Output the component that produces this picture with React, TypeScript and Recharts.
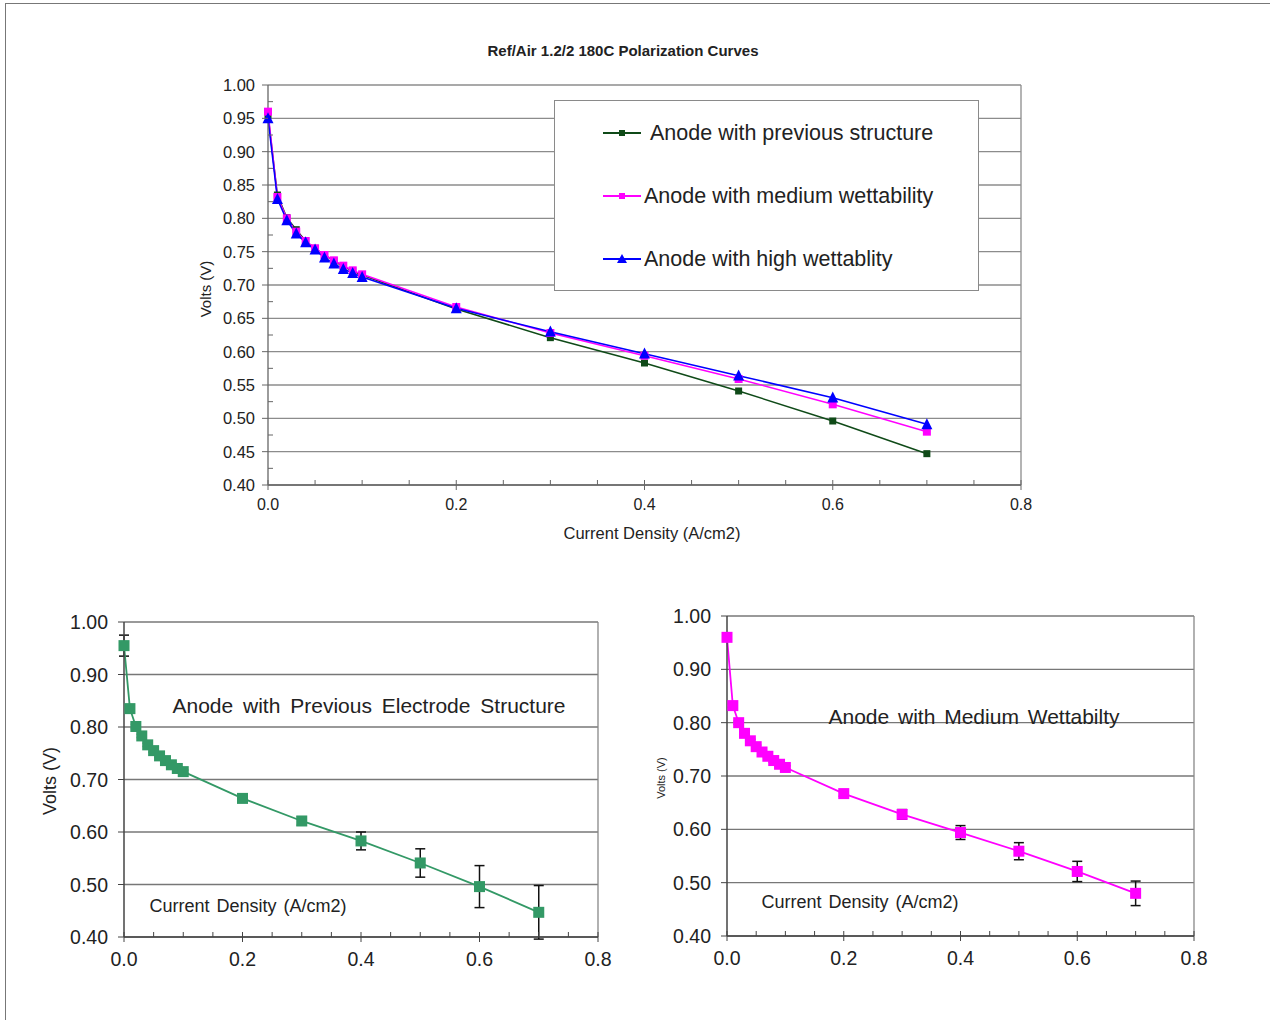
import React from 'react';
import { LineChart, Line, XAxis, YAxis, CartesianGrid, ReferenceLine, ErrorBar, Legend } from 'recharts';

// current density (A/cm2)
const current = [0, 0.01, 0.02, 0.03, 0.04, 0.05, 0.06, 0.07, 0.08, 0.09, 0.1, 0.2, 0.3, 0.4, 0.5, 0.6, 0.7];
// cell voltage (V)
const previousVolts = [0.955, 0.835, 0.801, 0.783, 0.766, 0.755, 0.745, 0.736, 0.728, 0.721, 0.715, 0.664, 0.621, 0.583, 0.541, 0.496, 0.447];
const mediumVolts = [0.960, 0.832, 0.800, 0.780, 0.766, 0.755, 0.745, 0.737, 0.729, 0.722, 0.716, 0.667, 0.628, 0.594, 0.559, 0.521, 0.480];
const highVolts = [0.950, 0.829, 0.797, 0.777, 0.764, 0.753, 0.741, 0.732, 0.724, 0.718, 0.712, 0.665, 0.630, 0.597, 0.564, 0.531, 0.491];
// error bars (+/- V)
const previousErr = [0.020, 0.004, 0.004, 0.003, 0.003, 0.003, 0.003, 0.003, 0.003, 0.003, 0.003, 0.005, 0.008, 0.017, 0.027, 0.040, 0.051];
const mediumErr = [0.004, 0.003, 0.003, 0.003, 0.003, 0.003, 0.003, 0.003, 0.003, 0.003, 0.003, 0.005, 0.009, 0.013, 0.016, 0.019, 0.023];

const seriesNames = ['Anode with previous structure', 'Anode with medium wettability', 'Anode with high wettablity'];

const topYTicks = [0.4, 0.425, 0.45, 0.475, 0.5, 0.525, 0.55, 0.575, 0.6, 0.625, 0.65, 0.675, 0.7, 0.725, 0.75, 0.775, 0.8, 0.825, 0.85, 0.875, 0.9, 0.925, 0.95, 0.975, 1.0];
const topYMajors = [0.4, 0.45, 0.5, 0.55, 0.6, 0.65, 0.7, 0.75, 0.8, 0.85, 0.9, 0.95, 1.0];
const xTicks = [0, 0.05, 0.1, 0.15, 0.2, 0.25, 0.3, 0.35, 0.4, 0.45, 0.5, 0.55, 0.6, 0.65, 0.7, 0.75, 0.8];
const xMajors = [0, 0.2, 0.4, 0.6, 0.8];
const bottomYTicks = [0.4, 0.5, 0.6, 0.7, 0.8, 0.9, 1.0];

const data = current.map((x, i) => ({
  x,
  prev: previousVolts[i],
  med: mediumVolts[i],
  high: highVolts[i],
  prevErr: previousErr[i],
  medErr: mediumErr[i],
}));

const FONT = '"Liberation Sans", Arial, sans-serif';
const DARK_GREEN = '#0f4a18';
const MAGENTA = '#ff00ff';
const BLUE = '#0000ff';
const SEA_GREEN = '#339966';

const isMajor = (v: number, majors: number[]) => majors.some((m) => Math.abs(m - v) < 1e-9);

function YTick(props: any) {
  const { x, y, payload, majors, digits, fontSize, gap, stroke } = props;
  const v = payload.value as number;
  if (!isMajor(v, majors)) {
    return <line x1={x} x2={x + 5} y1={y} y2={y} stroke={stroke} />;
  }
  return (
    <g>
      <line x1={x - 6} x2={x} y1={y} y2={y} stroke={stroke} />
      <text x={x - gap} y={y} textAnchor="end" dominantBaseline="central" fontSize={fontSize} fill="#222" fontFamily={FONT}>
        {v.toFixed(digits)}
      </text>
    </g>
  );
}

function XTick(props: any) {
  const { x, y, payload, fontSize, gap, stroke } = props;
  const v = payload.value as number;
  if (!isMajor(v, xMajors)) {
    return <line x1={x} x2={x} y1={y - 5} y2={y} stroke={stroke} />;
  }
  return (
    <g>
      <line x1={x} x2={x} y1={y - 5} y2={y + 5} stroke={stroke} />
      <text x={x} y={y + gap} textAnchor="middle" dominantBaseline="central" fontSize={fontSize} fill="#222" fontFamily={FONT}>
        {v.toFixed(1)}
      </text>
    </g>
  );
}

const squareDot = (size: number, color: string) => (p: any) => (
  <rect key={`s-${p.index}`} x={p.cx - size / 2} y={p.cy - size / 2} width={size} height={size} fill={color} />
);

const triangleDot = (size: number, color: string) => (p: any) => (
  <polygon
    key={`t-${p.index}`}
    points={`${p.cx},${p.cy - size * 0.55} ${p.cx - size / 2},${p.cy + size * 0.45} ${p.cx + size / 2},${p.cy + size * 0.45}`}
    fill={color}
  />
);

function LegendMarker({ kind, color }: { kind: string; color: string }) {
  return (
    <svg width={38} height={12} style={{ display: 'block' }}>
      <line x1={0} x2={38} y1={6} y2={6} stroke={color} strokeWidth={2} />
      {kind === 'tri' ? (
        <polygon points="19,1 14,10 24,10" fill={color} />
      ) : (
        <rect x={16} y={3} width={6} height={6} fill={color} />
      )}
    </svg>
  );
}

function TopLegend() {
  const items = [
    { name: seriesNames[0], color: DARK_GREEN, kind: 'sq', top: 32, pad: 9 },
    { name: seriesNames[1], color: MAGENTA, kind: 'sq', top: 95, pad: 3 },
    { name: seriesNames[2], color: BLUE, kind: 'tri', top: 158, pad: 3 },
  ];
  return (
    <div style={{ position: 'relative', width: 423, height: 189, border: '1px solid #8a8a8a', background: '#fff', fontFamily: FONT }}>
      {items.map((it) => (
        <div key={it.name} style={{ position: 'absolute', left: 48, top: it.top - 12, height: 24, display: 'flex', alignItems: 'center' }}>
          <LegendMarker kind={it.kind} color={it.color} />
          <span style={{ marginLeft: it.pad, fontSize: 21.5, color: '#222', whiteSpace: 'nowrap' }}>{it.name}</span>
        </div>
      ))}
    </div>
  );
}

function Text({ x, y, size, children, bold, rotate, spacing }: any) {
  return (
    <div
      style={{
        position: 'absolute',
        left: x,
        top: y,
        transform: `translate(-50%, -50%)${rotate ? ' rotate(-90deg)' : ''}`,
        fontSize: size,
        fontWeight: bold ? 'bold' : 'normal',
        fontFamily: FONT,
        color: '#222',
        whiteSpace: 'nowrap',
        wordSpacing: spacing || 0,
      }}
    >
      {children}
    </div>
  );
}

function TopChart() {
  const axisStroke = '#666';
  return (
    <div style={{ position: 'absolute', left: 0, top: 0 }}>
      <LineChart width={1270} height={560} data={data} margin={{ top: 85, right: 249, left: 208, bottom: 45 }}>
        <CartesianGrid vertical={false} horizontalValues={topYMajors} stroke="#8c8c8c" strokeWidth={1.3} />
        <ReferenceLine x={0.8} stroke="#8c8c8c" strokeWidth={1.3} />
        <XAxis
          dataKey="x"
          type="number"
          domain={[0, 0.8]}
          ticks={xTicks}
          interval={0}
          tickSize={0}
          tickMargin={0}
          height={30}
          axisLine={{ stroke: axisStroke, strokeWidth: 1.3 }}
          tickLine={false}
          tick={(p: any) => <XTick {...p} fontSize={16} gap={19} stroke={axisStroke} />}
        />
        <YAxis
          type="number"
          domain={[0.4, 1.0]}
          allowDataOverflow
          ticks={topYTicks}
          interval={0}
          tickSize={0}
          tickMargin={0}
          width={60}
          axisLine={{ stroke: axisStroke, strokeWidth: 1.3 }}
          tickLine={false}
          tick={(p: any) => <YTick {...p} majors={topYMajors} digits={2} fontSize={16.5} gap={13} stroke={axisStroke} />}
        />
        <Legend
          layout="vertical"
          align="center"
          verticalAlign="middle"
          content={() => <TopLegend />}
          wrapperStyle={{ left: 554, top: 100, width: 425, height: 191 }}
        />
        <Line dataKey="prev" name={seriesNames[0]} stroke={DARK_GREEN} strokeWidth={1.5} dot={squareDot(7, DARK_GREEN)} isAnimationActive={false} />
        <Line dataKey="med" name={seriesNames[1]} stroke={MAGENTA} strokeWidth={1.5} dot={squareDot(8, MAGENTA)} isAnimationActive={false} />
        <Line dataKey="high" name={seriesNames[2]} stroke={BLUE} strokeWidth={1.5} dot={triangleDot(11, BLUE)} isAnimationActive={false} />
      </LineChart>
      <Text x={623} y={50} size={15} bold>Ref/Air 1.2/2 180C Polarization Curves</Text>
      <Text x={205} y={289} size={15} rotate>Volts (V)</Text>
      <Text x={652} y={533} size={16.5}>Current Density (A/cm2)</Text>
    </div>
  );
}

function BottomChart(props: any) {
  const { left, width, margin, dataKey, errKey, color, yFont } = props;
  const axisStroke = '#444';
  return (
    <div style={{ position: 'absolute', left, top: 560 }}>
      <LineChart width={width} height={440} data={data} margin={margin}>
        <CartesianGrid vertical={false} horizontalValues={bottomYTicks} stroke="#777" strokeWidth={1.3} />
        <ReferenceLine x={0.8} stroke="#888" strokeWidth={1.3} />
        <XAxis
          dataKey="x"
          type="number"
          domain={[0, 0.8]}
          ticks={xTicks}
          interval={0}
          tickSize={0}
          tickMargin={0}
          height={30}
          axisLine={{ stroke: axisStroke, strokeWidth: 1.5 }}
          tickLine={false}
          tick={(p: any) => <XTick {...p} fontSize={yFont} gap={22} stroke={axisStroke} />}
        />
        <YAxis
          type="number"
          domain={[0.4, 1.0]}
          allowDataOverflow
          ticks={bottomYTicks}
          interval={0}
          tickSize={0}
          tickMargin={0}
          width={60}
          axisLine={{ stroke: axisStroke, strokeWidth: 1.5 }}
          tickLine={false}
          tick={(p: any) => <YTick {...p} majors={bottomYTicks} digits={2} fontSize={yFont} gap={16} stroke={axisStroke} />}
        />
        <Line dataKey={dataKey} stroke={color} strokeWidth={1.8} dot={squareDot(11, color)} isAnimationActive={false}>
          <ErrorBar dataKey={errKey} direction="y" width={5} stroke="#111" strokeWidth={1.5} />
        </Line>
      </LineChart>
    </div>
  );
}

export default function App() {
  return (
    <div style={{ position: 'absolute', left: 0, top: 0, width: 1270, height: 1020, background: '#fff', overflow: 'hidden', fontFamily: FONT }}>
      <div style={{ position: 'absolute', left: 5, top: 3, width: 1270, height: 1020, borderTop: '1px solid #777', borderLeft: '1px solid #777' }} />
      <TopChart />
      <BottomChart left={0} width={640} margin={{ top: 62, right: 42, left: 64, bottom: 33 }} dataKey="prev" errKey="prevErr" color={SEA_GREEN} yFont={19.5} />
      <BottomChart left={640} width={630} margin={{ top: 56, right: 76, left: 27, bottom: 34 }} dataKey="med" errKey="medErr" color={MAGENTA} yFont={19.5} />
      <Text x={369} y={706} size={21} spacing={4}>Anode with Previous Electrode Structure</Text>
      <Text x={248} y={906} size={18} spacing={2}>Current Density (A/cm2)</Text>
      <Text x={50} y={781} size={18} rotate>Volts (V)</Text>
      <Text x={974} y={717} size={21} spacing={3}>Anode with Medium Wettabilty</Text>
      <Text x={860} y={902} size={18} spacing={2}>Current Density (A/cm2)</Text>
      <Text x={661} y={778} size={11} rotate>Volts (V)</Text>
    </div>
  );
}
